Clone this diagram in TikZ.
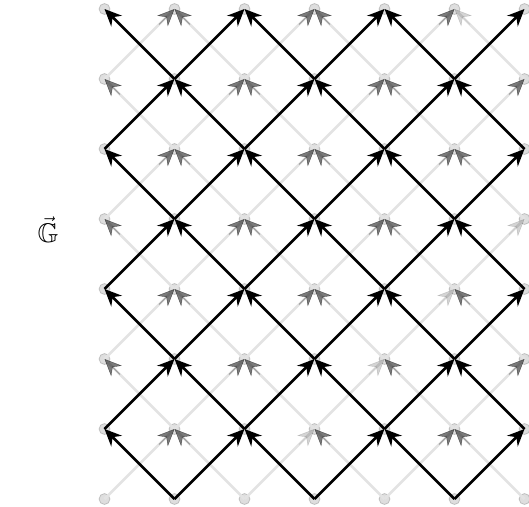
\documentclass[tikz,border=0pt]{standalone}
\usepackage{amssymb}
\usetikzlibrary{arrows.meta}
\begin{document}
\begin{tikzpicture}[x=1pt,y=1pt,
  vtx/.style={circle, inner sep=0pt, minimum size=11pt, fill=black, fill opacity=0.13, draw=black, draw opacity=0.18, line width=0.8pt},
  bedge/.style={line width=2.8pt, black, -{Stealth[length=17pt,width=15pt,inset=5.5pt]}},
  gline/.style={line width=2.6pt, black!11},
  ghead/.style={line width=0.4pt, black, opacity=0.52, shorten <=77pt, -{Stealth[length=17pt,width=15pt,inset=5.5pt]}},
  gfaint/.style={ghead, opacity=0.17},
  lbl/.style={font=\fontsize{27}{30}\selectfont, inner sep=0pt},
]
\useasboundingbox (0,0) rectangle (529,506);
\node[lbl] (G) at (48,276) {$\vec{\mathbb{G}}$};
\foreach \i in {0,...,6}{
  \foreach \j in {0,...,7}{
    \node[vtx] (v-\i-\j) at ({104.5+70*\i},{7+70*\j}) {};
  }
}
% gray lattice lines
\foreach \j in {0,...,6}{
  \foreach \i in {0,...,6}{
    \pgfmathtruncatemacro\s{\i+\j}
    \pgfmathtruncatemacro\up{\j+1}
    \pgfmathtruncatemacro\l{\i-1}
    \pgfmathtruncatemacro\r{\i+1}
    \ifodd\s\else
      \ifnum\i>0 \draw[gline] (v-\i-\j.center) -- (v-\l-\up.center);\fi
      \ifnum\i<6 \draw[gline] (v-\i-\j.center) -- (v-\r-\up.center);\fi
    \fi
  }
}
% gray lattice heads
\foreach \j in {0,...,6}{
  \foreach \i in {0,...,6}{
    \pgfmathtruncatemacro\s{\i+\j}
    \pgfmathtruncatemacro\d{\i-\j}
    \pgfmathtruncatemacro\up{\j+1}
    \pgfmathtruncatemacro\l{\i-1}
    \pgfmathtruncatemacro\r{\i+1}
    \ifodd\s\else
      \ifnum\i>0
        \ifnum\i=6 \ifnum\j=6
          \draw[gfaint] (v-\i-\j.center) -- (v-\l-\up.center);
        \else
          \draw[ghead] (v-\i-\j.center) -- (v-\l-\up.center);
        \fi\else
          \draw[ghead] (v-\i-\j.center) -- (v-\l-\up.center);
        \fi
      \fi
      \ifnum\i<6
        \ifnum\d=2
          \draw[gfaint] (v-\i-\j.center) -- (v-\r-\up.center);
        \else
          \draw[ghead] (v-\i-\j.center) -- (v-\r-\up.center);
        \fi
      \fi
    \fi
  }
}
% black lattice
\foreach \j in {0,...,6}{
  \foreach \i in {0,...,6}{
    \pgfmathtruncatemacro\s{\i+\j}
    \pgfmathtruncatemacro\up{\j+1}
    \pgfmathtruncatemacro\l{\i-1}
    \pgfmathtruncatemacro\r{\i+1}
    \ifodd\s
      \ifnum\i>0 \draw[bedge] (v-\i-\j.center) -- (v-\l-\up.center);\fi
      \ifnum\i<6 \draw[bedge] (v-\i-\j.center) -- (v-\r-\up.center);\fi
    \fi
  }
}
\end{tikzpicture}
\end{document}
